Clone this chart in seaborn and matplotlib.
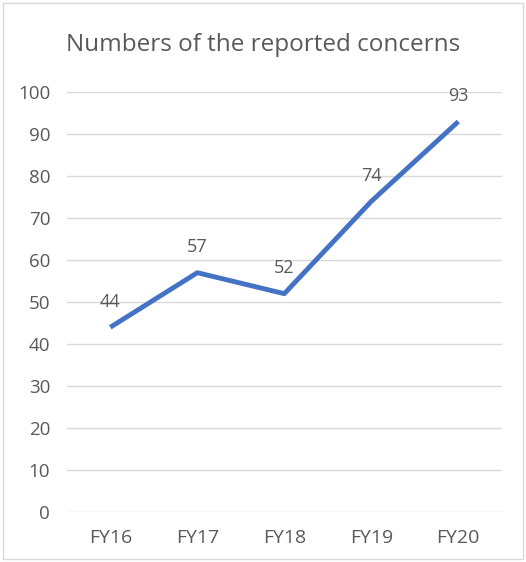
import matplotlib
matplotlib.use("Agg")
import matplotlib.pyplot as plt
import seaborn as sns
import pandas as pd
from matplotlib.patches import Rectangle

years = ["FY16", "FY17", "FY18", "FY19", "FY20"]
concerns = [44, 57, 52, 74, 93]
yticks = [0, 10, 20, 30, 40, 50, 60, 70, 80, 90, 100]

df = pd.DataFrame({"year": years, "concerns": concerns})

sns.set_style("white")
plt.rcParams['font.family'] = ['Open Sans', 'DejaVu Sans']

fig = plt.figure(figsize=(5.26, 5.62), dpi=100)
ax = fig.add_axes([0.127, 0.089, 0.827, 0.747])

sns.lineplot(data=df, x="year", y="concerns", ax=ax, color="#4472C4",
             linewidth=3.5, sort=False, solid_capstyle="butt")

txt = "#595959"
for i, v in enumerate(concerns):
    ax.annotate(str(v), (i, v), xytext=(0, 12), textcoords="offset points",
                ha="center", va="bottom", fontsize=13, color=txt)

ax.set_xlim(-0.5, len(years) - 0.5)
ax.set_ylim(0, 100)
ax.set_yticks(yticks)
ax.set_xticks(range(len(years)))
ax.set_xticklabels(years)
ax.grid(axis="y", color="#d9d9d9", linewidth=1)
ax.set_axisbelow(True)
for s in ax.spines.values():
    s.set_visible(False)
ax.tick_params(axis="both", length=0, labelcolor=txt)
ax.tick_params(axis="y", pad=12, labelsize=13.5)
ax.tick_params(axis="x", pad=12, labelsize=14)
ax.set_xlabel("")
ax.set_ylabel("")

fig.text(0.5, 0.92, "Numbers of the reported concerns", ha="center", va="center",
         fontsize=17.5, color=txt)

fig.patches.append(Rectangle((0.006, 0.005), 0.988, 0.99, transform=fig.transFigure,
                             fill=False, edgecolor="#d9d9d9", linewidth=1))

fig.savefig("out.png", dpi=100)
